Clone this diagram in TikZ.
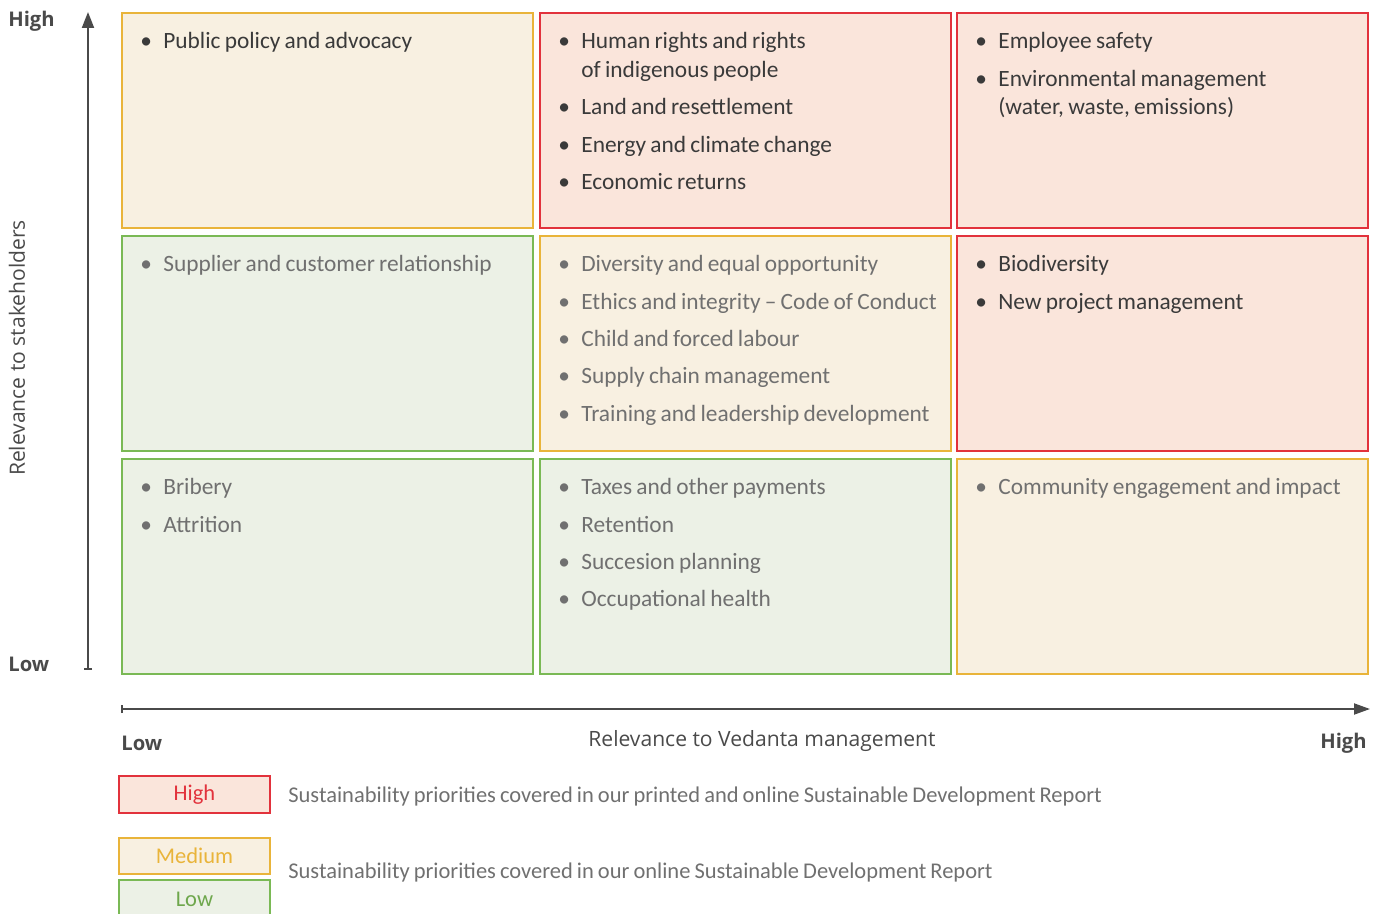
\documentclass[tikz,border=0pt]{standalone}
\usepackage{fontspec}
\setmainfont{Carlito}[WordSpace=0.8]
\newfontfamily\axisfont{Open Sans}
\usetikzlibrary{positioning, arrows.meta, calc}

\definecolor{hifill}{HTML}{FAE5DB}
\definecolor{hiline}{HTML}{E2323C}
\definecolor{medfill}{HTML}{F8F0E1}
\definecolor{medline}{HTML}{E9B43A}
\definecolor{lofill}{HTML}{ECF1E6}
\definecolor{loline}{HTML}{7AB955}
\definecolor{darktext}{HTML}{3A3A3A}
\definecolor{greytext}{HTML}{707070}
\definecolor{axisgrey}{HTML}{4A4A4A}

\newcommand{\bodysize}{\fontsize{13.3}{16.4}\selectfont}
\newcommand{\keysize}{\fontsize{12.8}{15}\selectfont}
\newcommand{\bitem}[1]{\hangindent=0.46cm\hangafter=1\noindent\makebox[0.46cm][l]{\textbullet}#1\par}

\begin{document}
\begin{tikzpicture}[
    x=0.02cm, y=-0.02cm,
    >=Stealth,
    cell/.style={draw, line width=1.1pt, minimum width=8.22cm, minimum height=4.3cm, anchor=north west, inner sep=0pt},
    hibox/.style={cell, fill=hifill, draw=hiline},
    medbox/.style={cell, fill=medfill, draw=medline},
    lobox/.style={cell, fill=lofill, draw=loline},
    items/.style={anchor=north west, inner sep=0pt, text width=8.5cm, align=flush left, font=\bodysize,
        execute at begin node={\setlength{\parskip}{4.9pt}\hyphenpenalty=10000}},
    axis/.style={draw=axisgrey, line width=1.1pt},
    axislabel/.style={font=\axisfont\fontsize{12}{14}\selectfont, text=axisgrey, inner sep=0pt},
    endlabel/.style={font=\axisfont\bfseries\fontsize{11.5}{14}\selectfont, text=axisgrey, inner sep=0pt},
    key/.style={draw, line width=1.1pt, minimum width=3.02cm, minimum height=0.74cm, inner sep=0pt, font=\keysize, anchor=north west},
    keytext/.style={anchor=west, inner sep=0pt, font=\keysize, text=greytext}
]
    \useasboundingbox (0,0) rectangle (1383,913);

    % Grid of cells
    % top row
    \node[medbox] (c11) at (121,12) {};
    \node[hibox] (c12) at (539,12) {};
    \node[hibox] (c13) at (956,12) {};
    % middle row
    \node[lobox] (c21) at (121,235) {};
    \node[medbox] (c22) at (539,235) {};
    \node[hibox] (c23) at (956,235) {};
    % bottom row
    \node[lobox] (c31) at (121,458) {};
    \node[lobox] (c32) at (539,458) {};
    \node[medbox] (c33) at (956,458) {};

    % Topics
    \node[items, text=darktext] (t11) at ([shift={(19,20)}]c11.north west) {\bitem{Public policy and advocacy}};
    \node[items, text=darktext] (t12) at ([shift={(19,20)}]c12.north west) {%
        \bitem{Human rights and rights\newline of indigenous people}
        \bitem{Land and resettlement}
        \bitem{Energy and climate change}
        \bitem{Economic returns}};
    \node[items, text=darktext] (t13) at ([shift={(19,20)}]c13.north west) {%
        \bitem{Employee safety}
        \bitem{Environmental management\newline (water, waste, emissions)}};

    \node[items, text=greytext] (t21) at ([shift={(19,20)}]c21.north west) {\bitem{Supplier and customer relationship}};
    \node[items, text=greytext] (t22) at ([shift={(19,20)}]c22.north west) {%
        \bitem{Diversity and equal opportunity}
        \bitem{Ethics and integrity -- Code of Conduct}
        \bitem{Child and forced labour}
        \bitem{Supply chain management}
        \bitem{Training and leadership development}};
    \node[items, text=darktext] (t23) at ([shift={(19,20)}]c23.north west) {%
        \bitem{Biodiversity}
        \bitem{New project management}};

    \node[items, text=greytext] (t31) at ([shift={(19,20)}]c31.north west) {%
        \bitem{Bribery}
        \bitem{Attrition}};
    \node[items, text=greytext] (t32) at ([shift={(19,20)}]c32.north west) {%
        \bitem{Taxes and other payments}
        \bitem{Retention}
        \bitem{Succesion planning}
        \bitem{Occupational health}};
    \node[items, text=greytext] (t33) at ([shift={(19,20)}]c33.north west) {\bitem{Community engagement and impact}};

    % Axes
    \coordinate (yfoot) at (88,670);
    \coordinate (ytop) at (88,12);
    \coordinate (xfoot) at (121,709);
    \coordinate (xtip) at (1370,709);
    \draw[axis, {Bar[width=0.16cm]}-{Triangle[length=0.32cm, width=0.24cm]}] (yfoot) -- (ytop);
    \draw[axis, {Bar[width=0.16cm]}-{Triangle[length=0.32cm, width=0.22cm]}] (xfoot) -- (xtip);

    \node[endlabel, anchor=west] (yhigh) at (8,21) {High};
    \node[endlabel, anchor=west] (ylow) at (8,664) {Low};
    \node[axislabel, rotate=90] (ylab) at (17,348) {Relevance to stakeholders};
    \node[endlabel, anchor=west] (xlow) at (121,743) {Low};
    \node[axislabel] (xlab) at (762,741) {Relevance to Vedanta management};
    \node[endlabel, anchor=east] (xhigh) at (1367,743) {High};

    % Legend
    \node[key, fill=hifill, draw=hiline, text=hiline] (khigh) at (118,775) {\raisebox{-0.1cm}{High}};
    \node[key, fill=medfill, draw=medline, text=medline, minimum height=0.72cm] (kmed) at (118,837) {\raisebox{-0.02cm}{Medium}};
    \node[key, fill=lofill, draw=loline, text=loline!90!black, minimum height=0.8cm] (klow) at (118,879) {\raisebox{0.04cm}{Low}};
    \node[keytext] (kt1) at (288,796) {Sustainability priorities covered in our printed and online Sustainable Development Report};
    \node[keytext] (kt2) at (288,872) {Sustainability priorities covered in our online Sustainable Development Report};
\end{tikzpicture}
\end{document}
